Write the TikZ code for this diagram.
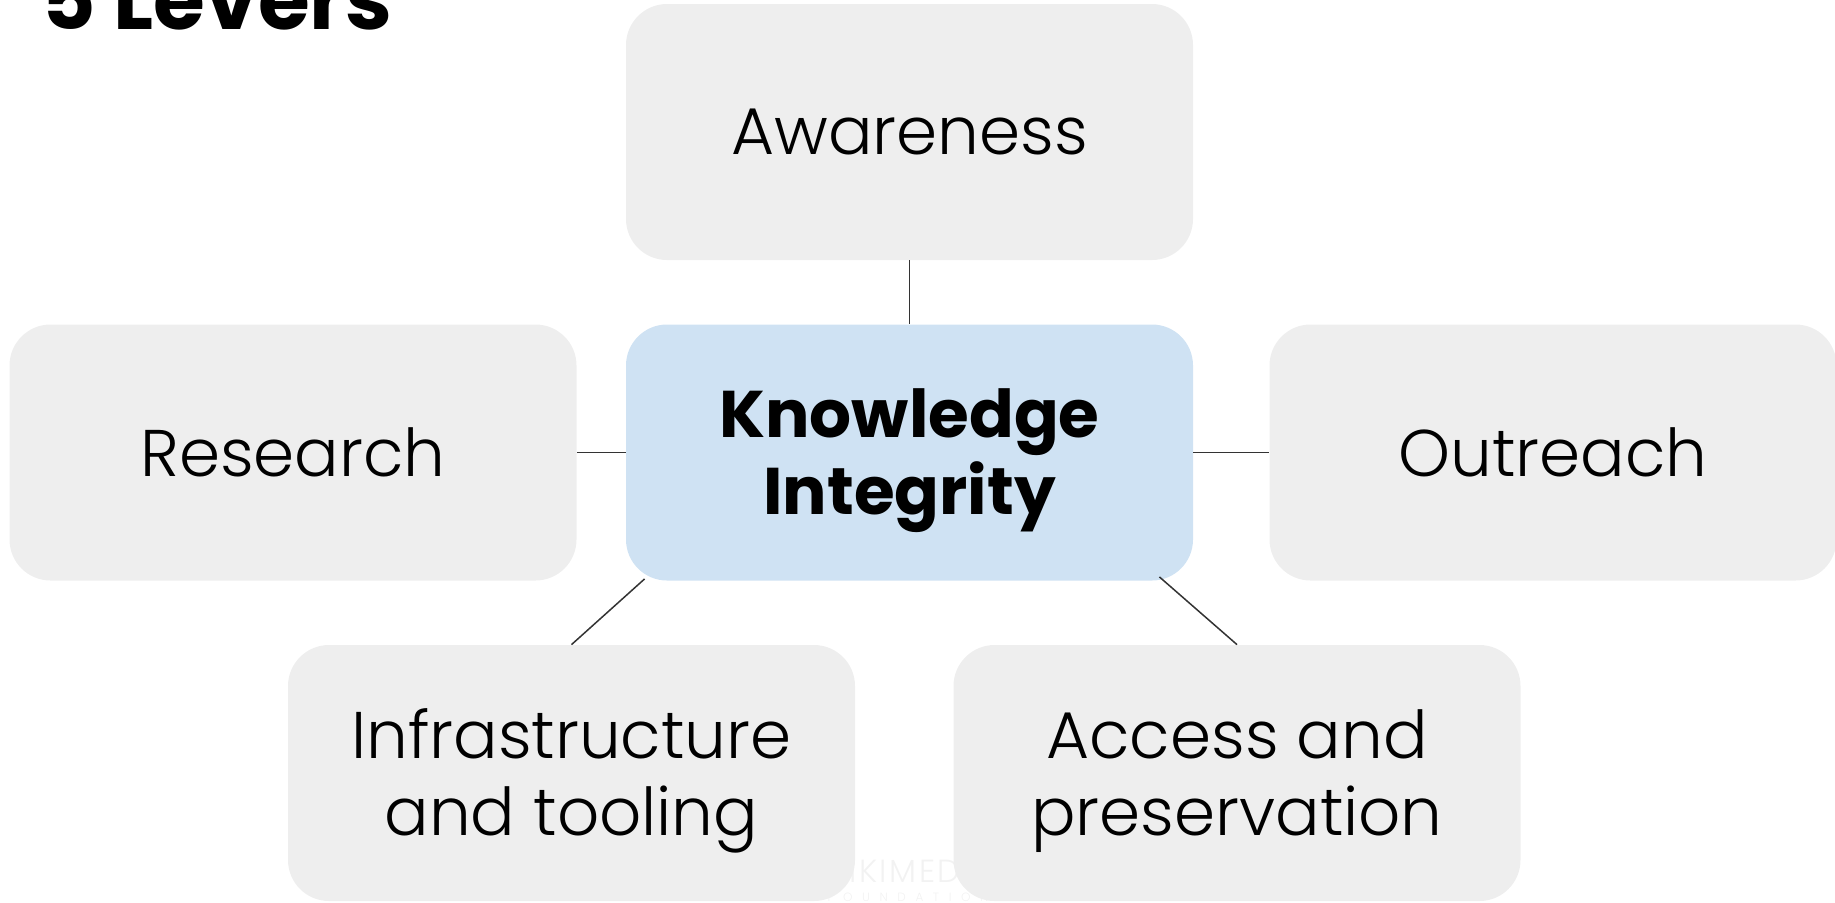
\documentclass[tikz,border=0pt]{standalone}
\usepackage{fontspec}
\setmainfont{Poppins}
\newfontfamily\lightf{Poppins Light}
\newfontfamily\boldf{Poppins Bold}
\newfontfamily\wmf{Poppins Light}[LetterSpace=8]
\newfontfamily\wmsf{Poppins Light}[LetterSpace=80]
\usetikzlibrary{calc}
\definecolor{boxgray}{HTML}{EEEEEE}
\definecolor{boxblue}{HTML}{CFE2F3}
\definecolor{linec}{HTML}{333333}
\definecolor{wmark}{HTML}{F2F2F2}
\begin{document}
\begin{tikzpicture}[x=0.5pt,y=-0.5pt,
  lever/.style={fill=boxgray, draw=none, rounded corners=20.5pt, minimum width=283.5pt, minimum height=128pt, align=center, font=\lightf\fontsize{33pt}{38pt}\selectfont, inner sep=0pt},
  hub/.style={lever, fill=boxblue},
  twoline/.style={label={[align=center, yshift=-4pt, inner sep=0pt, font=#1]center:}},
  conn/.style={draw=linec, line width=0.75pt}]
\useasboundingbox (0,0) rectangle (1835,902);
% watermark
\node[text=wmark, font=\wmf\fontsize{16pt}{16pt}\selectfont, inner sep=0pt] (wm1) at (905,871) {WIKIMEDIA};
\node[text=wmark, font=\wmsf\fontsize{6pt}{6pt}\selectfont, inner sep=0pt] (wm2) at (908,897) {FOUNDATION};
% title
\node[anchor=base west, font=\boldf\fontsize{42pt}{42pt}\selectfont, inner sep=0pt] (title) at (41,29) {5 Levers};
% boxes
\node[lever] (aw) at (909.5,132) {Awareness};
\node[hub, label={[align=center, yshift=-4pt, inner sep=0pt, font=\boldf\fontsize{33pt}{38.5pt}\selectfont]center:Knowledge\\Integrity}] (ki) at (909.5,452.5) {};
\node[lever] (re) at (293,452.5) {Research};
\node[lever] (ou) at (1553,452.5) {Outreach};
\node[lever, label={[align=center, yshift=-4pt, inner sep=0pt, font=\lightf\fontsize{33pt}{38.5pt}\selectfont]center:Infrastructure\\and tooling}] (in) at (571.5,773) {};
\node[lever, label={[align=center, yshift=-4pt, inner sep=0pt, font=\lightf\fontsize{33pt}{38.5pt}\selectfont]center:Access and\\preservation}] (ac) at (1237,773) {};
% connectors
\coordinate (kisw) at ($(ki.south west)+(19,-2)$);
\coordinate (kise) at ($(ki.south east)+(-34,-4)$);
\draw[conn] (aw.south) -- (ki.north);
\draw[conn] (re.east) -- (ki.west);
\draw[conn] (ki.east) -- (ou.west);
\draw[conn] (kisw) -- (in.north);
\draw[conn] (kise) -- (ac.north);
\end{tikzpicture}
\end{document}
